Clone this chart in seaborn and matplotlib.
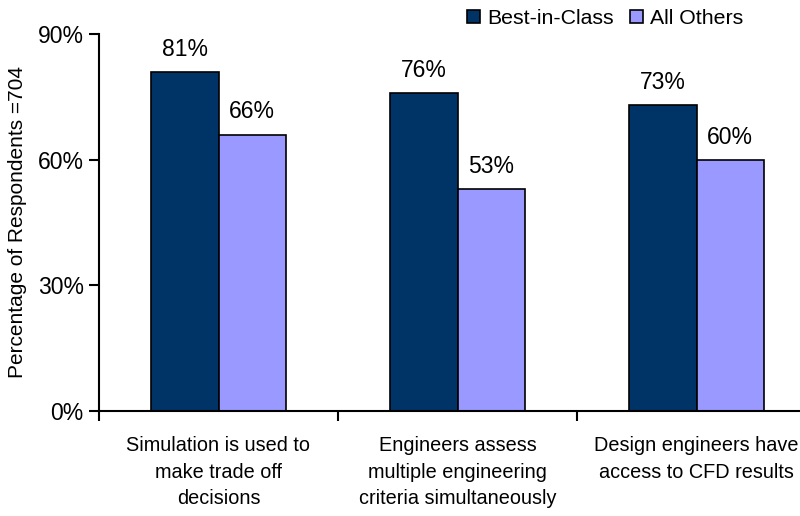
import matplotlib
matplotlib.use("Agg")
import matplotlib.pyplot as plt
import seaborn as sns
import pandas as pd
from matplotlib.patches import Patch

categories = [
    "Simulation is used to\nmake trade off\ndecisions",
    "Engineers assess\nmultiple engineering\ncriteria simultaneously",
    "Design engineers have\naccess to CFD results",
]
series = ["Best-in-Class", "All Others"]
best_in_class = [81, 76, 73]
all_others = [66, 53, 60]
colors = ["#003366", "#9999FF"]
y_ticks = [0, 30, 60, 90]

sns.set_theme(style="white")
plt.rcParams["font.family"] = ["Liberation Sans", "DejaVu Sans"]
plt.rcParams["text.color"] = "black"
plt.rcParams["axes.labelcolor"] = "black"
plt.rcParams["xtick.color"] = "black"
plt.rcParams["ytick.color"] = "black"

df = pd.DataFrame({
    "category": categories * 2,
    "group": [series[0]] * 3 + [series[1]] * 3,
    "value": best_in_class + all_others,
})

fig = plt.figure(figsize=(8.0, 5.16), dpi=100)
ax = fig.add_axes([99 / 800, 1 - 411 / 516, 717 / 800, 377 / 516])

sns.barplot(data=df, x="category", y="value", hue="group", hue_order=series,
            palette=colors, width=0.565, edgecolor="black", linewidth=1.2,
            saturation=1, ax=ax, legend=False)

for cont in ax.containers:
    ax.bar_label(cont, labels=[f"{v:.0f}%" for v in cont.datavalues],
                 padding=8, fontsize=16.5, color="black")

ax.set_ylim(0, 90)
ax.set_xlim(-0.5, 2.5)
ax.set_yticks(y_ticks)
ax.set_yticklabels([f"{t}%" for t in y_ticks], fontsize=16.5)

# category labels centred without ticks; tick marks at group boundaries
ax.set_xticks([0, 1, 2])
ax.set_xticklabels(categories, fontsize=14.3, linespacing=1.5)
ax.tick_params(axis="x", which="major", length=0, pad=18)
ax.set_xticks([-0.5, 0.5, 1.5, 2.5], minor=True)
ax.tick_params(axis="x", which="minor", length=7, width=1.5, direction="out",
               color="black", bottom=True)
ax.tick_params(axis="y", length=7, width=1.5, direction="out", color="black",
               left=True, pad=4)

ax.set_xlabel("")
ax.set_ylabel("Percentage of Respondents =704", fontsize=15, labelpad=8)

for side in ["top", "right"]:
    ax.spines[side].set_visible(False)
for side in ["left", "bottom"]:
    ax.spines[side].set_color("black")
    ax.spines[side].set_linewidth(1.5)

handles = [Patch(facecolor=c, edgecolor="black", linewidth=1.2) for c in colors]
fig.legend(handles, series, loc="upper right", bbox_to_anchor=(0.953, 1.02),
           ncol=2, frameon=False, fontsize=15.3, handlelength=0.6,
           handleheight=0.6, handletextpad=0.35, columnspacing=0.75)

fig.savefig("out.png", dpi=100)
